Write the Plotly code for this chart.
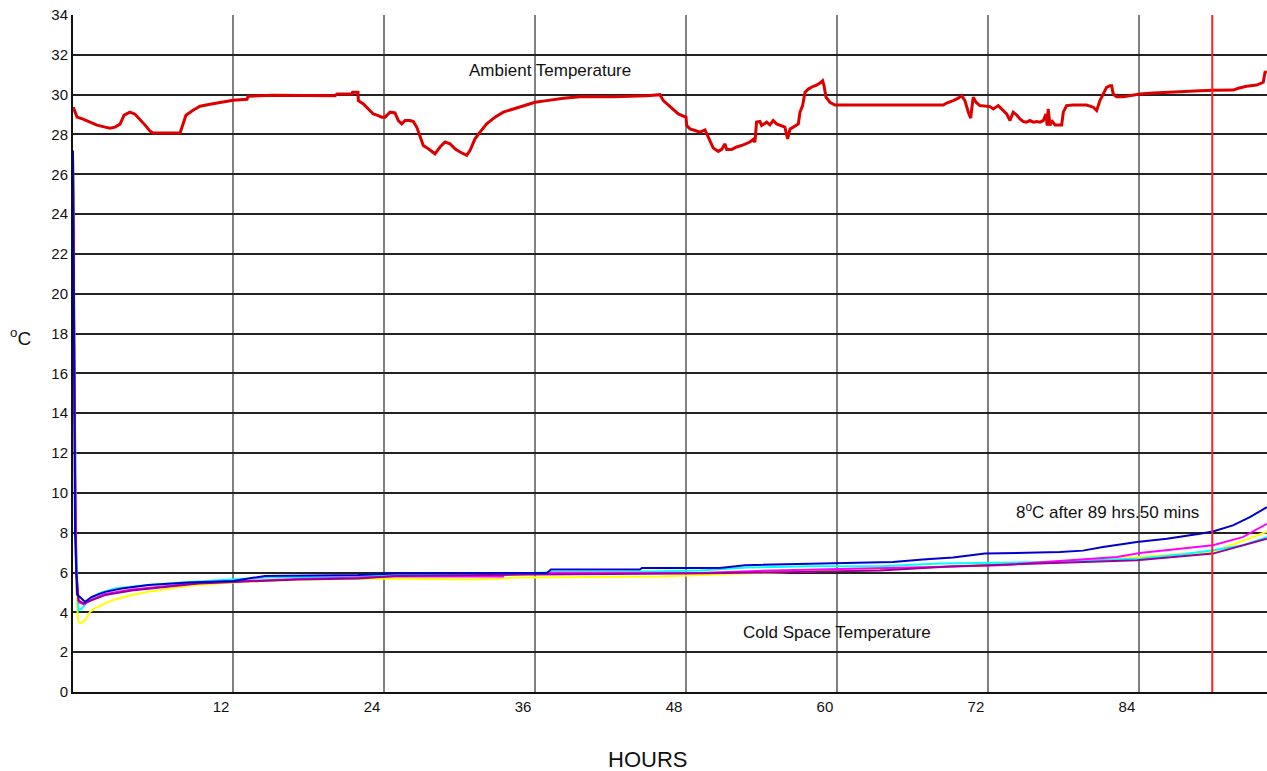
import plotly.graph_objects as go

# ---------------- data (hours, degC) ----------------
amb_h = [-0.7, -0.40, 0.08, 0.64, 1.19, 1.83, 2.23, 2.62, 3.02, 3.34, 3.81, 4.21, 4.61, 5.01, 5.40, 5.64,
         7.79, 7.95, 8.26, 8.82, 9.38, 10.17, 10.97, 12.0, 13.11, 13.19, 15.10, 17.32, 20.11, 20.27, 21.46,
         21.5, 21.93, 21.96, 22.36, 22.75, 23.15, 23.55, 23.82, 24.08, 24.48, 24.87, 25.14, 25.41, 25.67,
         26.07, 26.33, 26.60, 26.86, 27.12, 27.52, 28.05, 28.45, 28.85, 29.25, 29.64, 30.04, 30.57, 30.84,
         31.23, 31.63, 32.16, 32.82, 33.48, 34.28, 35.07, 36.0, 36.93, 37.45, 38.25, 39.57, 42.22, 44.88,
         45.93, 46.20, 46.59, 46.99, 47.39, 47.79, 48.0, 48.06, 48.32, 48.72, 49.11, 49.51, 49.65, 49.91,
         50.17, 50.57, 50.84, 51.10, 51.23, 51.63, 52.03, 52.55, 53.08, 53.34, 53.48, 53.61, 53.88, 54.01,
         54.41, 54.67, 54.93, 55.20, 55.60, 55.86, 56.08, 56.27, 56.53, 56.93, 57.06, 57.27, 57.46, 57.72,
         58.12, 58.39, 58.65, 58.86, 58.97, 59.13, 59.44, 59.84, 68.45, 68.72, 69.24, 69.64, 69.91, 70.17,
         70.44, 70.63, 70.71, 70.83, 71.05, 71.36, 72.16, 72.42, 72.82, 73.22, 73.49, 73.75, 74.01, 74.28,
         74.54, 74.81, 75.07, 75.34, 75.60, 75.87, 76.13, 76.40, 76.61, 76.71, 76.79, 76.93, 77.06, 77.33,
         77.86, 77.99, 78.25, 78.78, 79.84, 80.37, 80.64, 80.90, 81.17, 81.43, 81.70, 81.83, 81.96, 82.22,
         82.75, 83.28, 83.82, 84.08, 85.14, 87.0, 88.85, 89.91, 91.50, 91.89, 92.56, 93.36, 93.88, 94.02, 94.17]
amb_t = [29.37, 28.87, 28.77, 28.62, 28.47, 28.37, 28.32, 28.37, 28.52, 28.97, 29.12, 29.02, 28.77, 28.47, 28.17, 28.07,
         28.07, 28.37, 28.97, 29.22, 29.42, 29.52, 29.62, 29.72, 29.77, 29.92, 29.97, 29.95, 29.95, 30.03, 30.03,
         30.12, 30.12, 29.70, 29.53, 29.28, 29.03, 28.95, 28.87, 28.87, 29.12, 29.08, 28.70, 28.53, 28.70,
         28.70, 28.65, 28.37, 27.87, 27.45, 27.28, 27.03, 27.37, 27.62, 27.53, 27.28, 27.12, 26.95, 27.20,
         27.78, 28.12, 28.53, 28.87, 29.12, 29.28, 29.45, 29.62, 29.70, 29.75, 29.82, 29.90, 29.90, 29.95,
         30.0, 29.70, 29.48, 29.28, 29.03, 28.92, 28.87, 28.45, 28.28, 28.20, 28.12, 28.23, 28.03, 27.62,
         27.32, 27.15, 27.25, 27.53, 27.25, 27.25, 27.37, 27.48, 27.62, 27.75, 27.62, 28.62, 28.65, 28.45,
         28.62, 28.48, 28.70, 28.53, 28.45, 28.37, 27.78, 28.28, 28.37, 28.53, 29.12, 29.45, 30.12, 30.28,
         30.42, 30.48, 30.58, 30.70, 30.45, 29.87, 29.62, 29.48, 29.48, 29.58, 29.70, 29.82, 29.95, 29.70,
         29.12, 28.82, 29.28, 29.87, 29.62, 29.45, 29.40, 29.28, 29.45, 29.20, 29.03, 28.70, 29.12, 28.98,
         28.78, 28.65, 28.62, 28.70, 28.62, 28.65, 28.62, 28.70, 29.03, 28.45, 29.28, 28.45, 28.70, 28.48,
         28.48, 29.12, 29.45, 29.48, 29.48, 29.37, 29.20, 29.70, 30.03, 30.37, 30.45, 30.45, 30.03, 29.90,
         29.90, 29.95, 29.98, 30.03, 30.08, 30.15, 30.20, 30.22, 30.23, 30.32, 30.42, 30.48, 30.62, 31.12, 31.15]

blue_h = [-0.72, -0.56, -0.40, -0.02, 0.24, 0.77, 1.83, 3.15, 5.27, 8.45, 12.02, 14.54, 21.96, 24.87, 30.6,
          36.95, 37.27, 44.34, 44.5, 50.7, 52.69, 57.85, 64.45, 66.83, 69.22, 71.76, 77.72, 79.55, 81.14,
          83.84, 86.22, 88.85, 89.88, 91.47, 92.82, 94.17]
blue_t = [27.2, 8.0, 4.9, 4.7, 4.53, 4.78, 5.03, 5.2, 5.37, 5.5, 5.58, 5.83, 5.87, 5.95, 5.98,
          5.98, 6.15, 6.15, 6.23, 6.23, 6.37, 6.45, 6.53, 6.65, 6.75, 6.95, 7.03, 7.1, 7.28,
          7.53, 7.70, 7.95, 8.06, 8.37, 8.78, 9.28]

cyan_h = [-0.72, -0.48, -0.29, -0.02, 0.50, 1.30, 2.62, 5.27, 7.92, 12.02, 14.54, 21.43, 24.87, 29.09,
          33.77, 37.27, 42.99, 49.11, 52.85, 57.85, 63.42, 68.18, 76.93, 84.08, 87.5, 89.88, 92.26, 94.17]
cyan_t = [27.0, 7.4, 4.1, 4.2, 4.6, 4.95, 5.2, 5.37, 5.50, 5.65, 5.75, 5.8, 5.87, 5.88,
          5.88, 6.03, 6.03, 6.1, 6.25, 6.31, 6.31, 6.45, 6.53, 6.7, 6.92, 7.12, 7.37, 7.78]

magenta_h = [-0.72, -0.48, -0.24, 0.16, 0.79, 1.83, 3.97, 6.6, 9.22, 12.0, 17.17, 21.93, 24.87, 33.46,
             33.61, 42.99, 49.11, 54.83, 62.86, 67.63, 72.95, 78.75, 82.25, 84.08, 87.5, 89.88, 92.26, 94.17]
magenta_t = [27.0, 6.0, 4.5, 4.4, 4.65, 4.92, 5.15, 5.32, 5.48, 5.55, 5.68, 5.75, 5.8, 5.8,
             5.98, 5.98, 5.98, 6.1, 6.2, 6.28, 6.37, 6.62, 6.78, 6.98, 7.2, 7.37, 7.78, 8.45]

purple_h = [-0.72, -0.56, -0.44, -0.29, 0.10, 0.77, 1.83, 3.95, 6.6, 9.24, 12.02, 17.19, 21.96, 24.87,
            36.0, 47.92, 57.06, 63.42, 68.98, 83.84, 89.88, 94.17]
purple_t = [27.0, 11.0, 6.0, 4.6, 4.45, 4.6, 4.87, 5.1, 5.28, 5.45, 5.53, 5.65, 5.70, 5.83,
            5.9, 5.95, 6.03, 6.1, 6.3, 6.62, 6.95, 7.7]

yellow_h = [-0.72, -0.48, -0.32, -0.16, 0.24, 0.64, 1.03, 1.83, 2.62, 3.95, 5.27, 6.6, 7.92, 9.24, 10.57,
            12.02, 14.54, 17.72, 24.87, 30.83, 34.81, 45.93, 56.26, 68.98, 82.25, 89.88, 94.17]
yellow_t = [27.0, 5.5, 3.6, 3.45, 3.6, 4.03, 4.2, 4.45, 4.65, 4.87, 5.03, 5.17, 5.28, 5.37, 5.45,
            5.50, 5.58, 5.65, 5.7, 5.65, 5.75, 5.8, 6.03, 6.3, 6.7, 7.03, 8.05]

x_ticks = [12, 24, 36, 48, 60, 72, 84]
y_ticks = list(range(0, 35, 2))
light_grid_hours = [60, 72]
limit_hours = 89.83  # 8 degC reached after 89 hrs 50 mins

FONT = "Liberation Sans Narrow, Arial Narrow, Liberation Sans, sans-serif"

fig = go.Figure()
series = [
    ("Yellow", yellow_h, yellow_t, "#ffff00"),
    ("Cyan", cyan_h, cyan_t, "#00ffff"),
    ("Magenta", magenta_h, magenta_t, "#ff00ff"),
    ("Purple", purple_h, purple_t, "#990099"),
    ("Blue", blue_h, blue_t, "#0000cc"),
]
for name, xs, ys, col in series:
    fig.add_trace(go.Scatter(x=xs, y=ys, mode="lines", name=name,
                             line=dict(color=col, width=2, shape="linear"), showlegend=False))
fig.add_trace(go.Scatter(x=amb_h, y=amb_t, mode="lines", name="Ambient",
                         line=dict(color="#dd0000", width=3), showlegend=False))

shapes = []
for h in light_grid_hours:
    shapes.append(dict(type="line", xref="x", yref="paper", x0=h, x1=h, y0=0, y1=1,
                       line=dict(color="#c4c4c4", width=2), layer="below"))
shapes.append(dict(type="line", xref="x", yref="paper", x0=limit_hours, x1=limit_hours, y0=0, y1=1,
                   line=dict(color="#ff2020", width=2), layer="above"))

annotations = [
    dict(text="Ambient Temperature", x=37.2, y=31.2, xref="x", yref="y", showarrow=False,
         font=dict(family=FONT, size=17, color="#111")),
    dict(text="Cold Space Temperature", x=60.0, y=3.0, xref="x", yref="y", showarrow=False,
         font=dict(family=FONT, size=17, color="#111")),
    dict(text="8<sup>o</sup>C after 89 hrs.50 mins", x=81.5, y=9.1, xref="x", yref="y", showarrow=False,
         font=dict(family=FONT, size=17, color="#111")),
    dict(text="<sup>o</sup>C", x=20, y=337, xref="paper", yref="paper", showarrow=False,
         font=dict(family=FONT, size=19, color="#111")),
    dict(text="HOURS", x=647, y=759, showarrow=False,
         font=dict(family=FONT, size=22, color="#111")),
]
# convert pixel-placed labels (title positions) to paper coords
W, H = 1267, 771
ML, MR, MT, MB = 73, 0, 15, 79
pw, ph = W - ML - MR, H - MT - MB
annotations[3].update(x=(20 - ML) / pw, y=(H - MB - 337) / ph, xanchor="center", yanchor="middle")
annotations[4].update(xref="paper", yref="paper", x=(647 - ML) / pw, y=(H - MB - 759) / ph,
                      xanchor="center", yanchor="middle")

fig.update_layout(
    width=W, height=H,
    margin=dict(l=ML, r=MR, t=MT, b=MB, pad=0),
    paper_bgcolor="white", plot_bgcolor="white",
    shapes=shapes, annotations=annotations,
    font=dict(family=FONT, size=15, color="#111"),
)
fig.update_xaxes(range=[-0.72, 94.18], tickvals=x_ticks, showgrid=True, gridcolor="#808080", gridwidth=2,
                 showline=True, linecolor="#111", linewidth=2, zeroline=False, ticks="",
                 ticklabelshift=-12, tickfont=dict(family=FONT, size=15, color="#111"))
fig.update_yaxes(range=[0, 34], tickvals=y_ticks, showgrid=True, gridcolor="#222", gridwidth=2,
                 showline=True, linecolor="#111", linewidth=2, zeroline=False, ticks="",
                 tickfont=dict(family=FONT, size=15, color="#111"))

fig.write_html("out.html")
